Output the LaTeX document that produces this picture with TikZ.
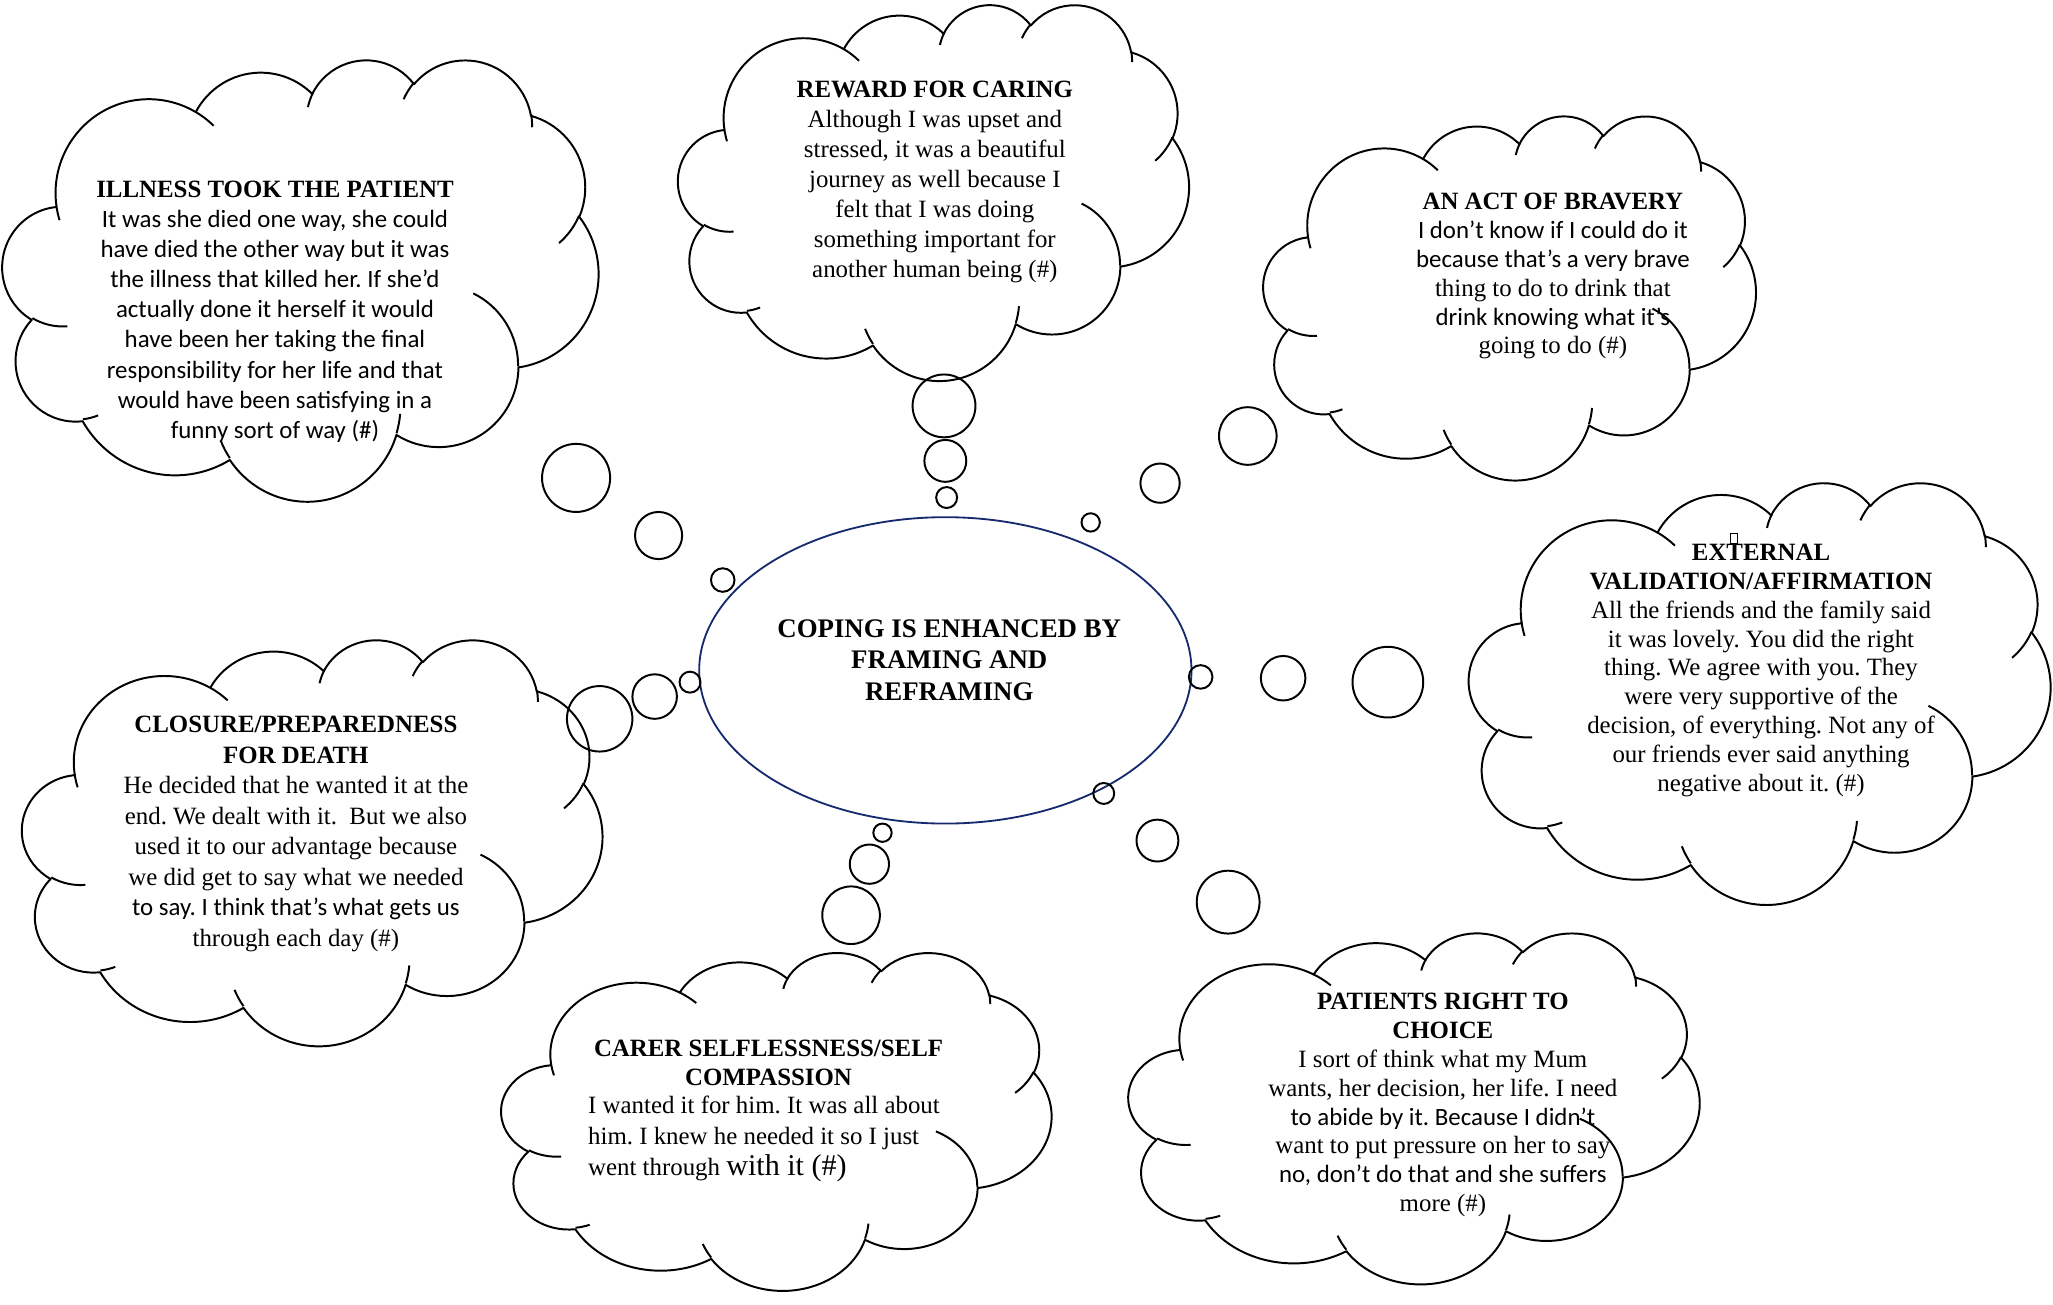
\documentclass[tikz,border=0pt]{standalone}
\usepackage{fontspec}
\setmainfont{Liberation Serif}
\newfontfamily\carl{Carlito}
\frenchspacing
\definecolor{navy}{RGB}{22,42,110}
% arc of an OOXML-style ellipse, angles given as ray angles
\newcommand\carc[4]{arc[x radius=#1, y radius=#2, start angle={atan2((#1)*sin(#3),(#2)*cos(#3))}, delta angle={mod(atan2((#1)*sin((#3)+(#4)),(#2)*cos((#3)+(#4)))-atan2((#1)*sin(#3),(#2)*cos(#3))+720,360)}]}
\newcommand\wordcloud[4]{%
\begin{scope}[shift={(#1,#2)},xscale=#3,yscale=#4]
\draw[cloudline] (9.028,33.264)
 \carc{15.632}{21.273}{-190.48748}{123.78053}
 \carc{12.345}{16.822}{-144.10238}{89.94523}
 \carc{10.104}{13.762}{-145.80792}{99.72302}
 \carc{11.243}{15.266}{-130.98607}{117.24173}
 \carc{12.345}{16.836}{-78.70888}{109.02692}
 \carc{15.683}{21.343}{-46.26725}{130.269}
 \carc{13.391}{18.211}{0.62502}{114.03333}
 \carc{15.630}{21.331}{22.4516}{115.17255}
 \carc{17.870}{24.405}{66.24263}{75.71102}
 \carc{10.093}{13.699}{-274.94208}{146.73557}
 \carc{10.058}{13.762}{-246.8285}{152.51885} -- cycle;
\draw[cloudline]
 (10.863,60.595) \carc{10.058}{13.762}{86.742}{26.4295}
 (16.037,80.785) \carc{10.093}{13.699}{73.61047}{11.44747}
 (38.144,90.486) \carc{15.630}{21.331}{137.62415}{14.0811}
 (66.729,80.442) \carc{15.630}{21.331}{6.45327}{15.99835}
 (79.002,53.134) \carc{13.391}{18.211}{-70.29235}{70.91737}
 (96.755,35.542) \carc{12.345}{16.836}{30.31803}{27.7515}
 (88.713,12.560) \carc{11.243}{15.266}{-13.74433}{14.86608}
 (67.310,9.148) \carc{11.243}{15.266}{-149.18145}{18.19643}
 (51.252,10.926) \carc{10.104}{13.762}{-163.49427}{17.69925}
 (32.407,12.019) \carc{15.632}{21.273}{-66.70695}{12.31935}
 (9.553,36.549) \carc{15.632}{21.273}{157.65435}{11.85817};
\end{scope}}
\tikzset{
 cloudline/.style={line width=1.5pt, black, line join=round},
 bub/.style={circle, draw=black, line width=1.5pt, inner sep=0pt},
 txt/.style={align=center, inner sep=0pt, font=\fontsize{19}{23}\selectfont},
 hub/.style={ellipse, draw=navy, line width=1.4pt, minimum width=376pt, minimum height=234pt, inner sep=0pt},
}
\usetikzlibrary{shapes.geometric}
\begin{document}
\begin{tikzpicture}[x=1pt,y=-1pt]
\useasboundingbox (0,0) rectangle (1568,996);
% clouds
\wordcloud{2}{45}{4.55}{3.37}
\wordcloud{518}{3}{3.90}{2.87}
\wordcloud{965}{88}{3.76}{2.78}
\wordcloud{1122}{368}{4.44}{3.22}
\wordcloud{17}{488}{4.43}{3.10}
\wordcloud{383}{727}{4.20}{2.58}
\wordcloud{862}{712}{4.36}{2.68}
% central ellipse
\node[hub] (hub) at (722,512) {};
\node[txt, font=\fontsize{20.5}{24}\selectfont\bfseries] (hubtxt) at (725,504) {COPING IS ENHANCED BY\\FRAMING AND\\REFRAMING};
% bubbles
\node[bub, minimum size=52pt] (i1) at (440,365) {};
\node[bub, minimum size=36pt] (i2) at (503,409) {};
\node[bub, minimum size=18pt] (i3) at (552,443) {};
\node[bub, minimum size=48pt] (r1) at (721,310) {};
\node[bub, minimum size=32pt] (r2) at (722,352) {};
\node[bub, minimum size=16pt] (r3) at (723,380) {};
\node[bub, minimum size=44pt] (b1) at (953,333) {};
\node[bub, minimum size=30pt] (b2) at (886,369) {};
\node[bub, minimum size=14pt] (b3) at (833,399) {};
\node[bub, minimum size=54pt] (e1) at (1060,521) {};
\node[bub, minimum size=34pt] (e2) at (980,518) {};
\node[bub, minimum size=18pt] (e3) at (917,517) {};
\node[bub, minimum size=48pt] (p1) at (938,689) {};
\node[bub, minimum size=32pt] (p2) at (884,642) {};
\node[bub, minimum size=16pt] (p3) at (843,606) {};
\node[bub, minimum size=44pt] (c1) at (650,699) {};
\node[bub, minimum size=30pt] (c2) at (664,660) {};
\node[bub, minimum size=14pt] (c3) at (674,636) {};
\node[bub, minimum size=50pt] (d1) at (458,549) {};
\node[bub, minimum size=34pt] (d2) at (500,532) {};
\node[bub, minimum size=16pt] (d3) at (527,521) {};
% texts
\node[txt] (illness) at (210,238) {\textbf{ILLNESS TOOK THE PATIENT}\\
{\carl It was she died one way, she could}\\
{\carl have died the other way but it was}\\
{\carl the illness that killed her. If she’d}\\
{\carl actually done it herself it would}\\
{\carl have been her taking the final}\\
{\carl responsibility for her life and that}\\
{\carl would have been satisfying in a}\\
{\carl funny sort of way (\#)}};
\node[txt] (reward) at (714,139) {\textbf{REWARD FOR CARING}\\
Although I was upset and\\
stressed, it was a beautiful\\
journey as well because I\\
felt that I was doing\\
something important for\\
another human being (\#)};
\node[txt, font=\fontsize{19}{22}\selectfont] (bravery) at (1186,211) {\textbf{AN ACT OF BRAVERY}\\
{\carl I don’t know if I could do it}\\
{\carl because that’s a very brave}\\
thing to do to drink that\\
{\carl drink knowing what it’s}\\
going to do (\#)};
\node[txt, font=\fontsize{19}{22}\selectfont] (external) at (1345,512) {\textbf{EXTERNAL}\\
\textbf{VALIDATION/AFFIRMATION}\\
All the friends and the family said\\
it was lovely. You did the right\\
thing. We agree with you. They\\
were very supportive of the\\
decision, of everything. Not any of\\
our friends ever said anything\\
negative about it. (\#)};
\draw[line width=0.5pt] (1321.5,407) rectangle (1327,415);
\node[txt, font=\fontsize{19}{23.3}\selectfont] (closure) at (226,637) {\textbf{CLOSURE/PREPAREDNESS}\\
\textbf{FOR DEATH}\\
He decided that he wanted it at the\\
end. We dealt with it.\ \ But we also\\
used it to our advantage because\\
we did get to say what we needed\\
{\carl to say. I think that’s what gets us}\\
through each day (\#)};
\node[txt, font=\fontsize{19}{22}\selectfont\bfseries] (carertitle) at (587,812) {CARER SELFLESSNESS/SELF\\COMPASSION};
\node[txt, align=left, anchor=west, font=\fontsize{19}{23.5}\selectfont] (carer) at (449,870) {I wanted it for him. It was all about\\
him. I knew he needed it so I just\\
went through {\fontsize{23}{23.5}\selectfont with it (\#)}};
\node[txt, font=\fontsize{19}{22}\selectfont] (patients) at (1102,844) {\textbf{PATIENTS RIGHT TO}\\
\textbf{CHOICE}\\
I sort of think what my Mum\\
wants, her decision, her life. I need\\
{\carl to abide by it. Because I didn’t}\\
want to put pressure on her to say\\
{\carl no, don’t do that and she suffers}\\
more (\#)};
\end{tikzpicture}
\end{document}
